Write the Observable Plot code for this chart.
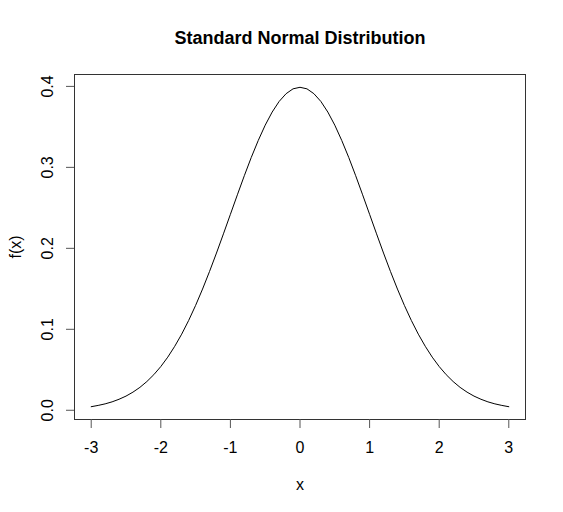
<!DOCTYPE html>
<html>
<head>
<meta charset="utf-8">
<script src="https://cdn.jsdelivr.net/npm/d3@7"></script>
<script src="https://cdn.jsdelivr.net/npm/@observablehq/plot@0.6"></script>
<style>
  body { margin: 0; background: white; }
</style>
</head>
<body>
<div id="chart"></div>
<script>
// curve
const xValues = [
  -3.0, -2.9, -2.8, -2.7, -2.6, -2.5, -2.4, -2.3, -2.2, -2.1,
  -2.0, -1.9, -1.8, -1.7, -1.6, -1.5, -1.4, -1.3, -1.2, -1.1,
  -1.0, -0.9, -0.8, -0.7, -0.6, -0.5, -0.4, -0.3, -0.2, -0.1,
  0.0, 0.1, 0.2, 0.3, 0.4, 0.5, 0.6, 0.7, 0.8, 0.9,
  1.0, 1.1, 1.2, 1.3, 1.4, 1.5, 1.6, 1.7, 1.8, 1.9,
  2.0, 2.1, 2.2, 2.3, 2.4, 2.5, 2.6, 2.7, 2.8, 2.9, 3.0
];
const fValues = [
  0.0044, 0.0060, 0.0079, 0.0104, 0.0136, 0.0175, 0.0224, 0.0283, 0.0355, 0.0440,
  0.0540, 0.0656, 0.0790, 0.0940, 0.1109, 0.1295, 0.1497, 0.1714, 0.1942, 0.2179,
  0.2420, 0.2661, 0.2897, 0.3123, 0.3332, 0.3521, 0.3683, 0.3814, 0.3910, 0.3970,
  0.3989, 0.3970, 0.3910, 0.3814, 0.3683, 0.3521, 0.3332, 0.3123, 0.2897, 0.2661,
  0.2420, 0.2179, 0.1942, 0.1714, 0.1497, 0.1295, 0.1109, 0.0940, 0.0790, 0.0656,
  0.0540, 0.0440, 0.0355, 0.0283, 0.0224, 0.0175, 0.0136, 0.0104, 0.0079, 0.0060, 0.0044
];

const xTicks = [-3, -2, -1, 0, 1, 2, 3];
const xTickLabels = ["-3", "-2", "-1", "0", "1", "2", "3"];
const yTicks = [0, 0.1, 0.2, 0.3, 0.4];
const yTickLabels = ["0.0", "0.1", "0.2", "0.3", "0.4"];

const title = "Standard Normal Distribution";
const xLabel = "x";
const yLabel = "f(x)";

const pts = xValues.map((x, i) => ({x, y: fValues[i]}));

const font = "'Liberation Sans', Arial, sans-serif";
// centred text, whatever frameAnchor is used
const mid = { textAnchor: "middle", lineAnchor: "middle", fontSize: 16 };

const chart = Plot.plot({
  width: 563,
  height: 512,
  marginLeft: 74,
  marginRight: 38,
  marginTop: 74,
  marginBottom: 93,
  style: { fontFamily: font, fontSize: "16px", background: "white", color: "#000" },
  x: { domain: [-3.24, 3.24] },
  y: { domain: [-0.0114, 0.4147] },
  marks: [
    Plot.frame({ stroke: "#333" }),
    Plot.line(pts, { x: "x", y: "y", stroke: "#000", strokeWidth: 1 }),

    // tick marks only, labels drawn as text below (R puts them vertical on y)
    Plot.axisX({ ticks: xTicks, tickSize: 9, tickFormat: () => "", label: null, stroke: "#555" }),
    Plot.axisY({ ticks: yTicks, tickSize: 8, tickFormat: () => "", label: null, stroke: "#555" }),

    Plot.text(xTicks, { ...mid, x: d => d, text: xTickLabels, frameAnchor: "bottom", dy: 28 }),
    Plot.text(yTicks, { ...mid, y: d => d, text: yTickLabels, frameAnchor: "left", dx: -27, rotate: -90 }),

    Plot.text([xLabel], { ...mid, frameAnchor: "bottom", dy: 65 }),
    Plot.text([yLabel], { ...mid, frameAnchor: "left", dx: -59, rotate: -90 }),
    Plot.text([title], { ...mid, frameAnchor: "top", dy: -36, fontSize: 18, fontWeight: "bold" })
  ]
});

document.getElementById("chart").append(chart);
</script>
</body>
</html>
